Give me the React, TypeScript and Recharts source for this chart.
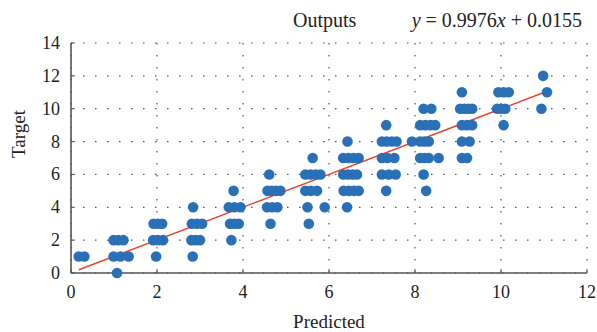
import { ScatterChart, Scatter, XAxis, YAxis, CartesianGrid, ReferenceLine } from 'recharts';

// predicted vs target pairs (one entry per dot)
const predicted = [
  0.18, 0.31,
  0.99, 1.1, 1.22, 0.99, 1.15, 1.34, 1.07,
  1.92, 2.02, 2.12, 1.91, 2.02, 2.14, 1.98,
  2.84, 2.81, 2.93, 3.05, 2.8, 2.9, 3.0, 2.83,
  3.78, 3.67, 3.8, 3.94, 3.7, 3.8, 3.9, 3.73,
  4.61, 4.57, 4.67, 4.77, 4.87, 4.56, 4.68, 4.8, 4.64,
  5.62, 5.45, 5.57, 5.69, 5.8, 5.45, 5.58, 5.72, 5.5, 5.9, 5.53,
  6.43, 6.33, 6.45, 6.57, 6.69, 6.33, 6.44, 6.55, 6.65, 6.34, 6.46, 6.58, 6.69, 6.42,
  7.33, 7.23, 7.34, 7.46, 7.57, 7.23, 7.36, 7.52, 7.23, 7.39, 7.55, 7.33,
  8.2, 8.38, 8.12, 8.24, 8.36, 8.47, 7.93, 8.12, 8.22, 8.32, 8.12, 8.22, 8.32, 8.55, 8.2, 8.26,
  9.09, 9.05, 9.15, 9.24, 9.33, 9.09, 9.21, 9.33, 9.09, 9.27, 9.09, 9.21,
  9.94, 10.06, 10.18, 9.91, 10.01, 10.1, 10.06,
  10.98, 11.07, 10.94,
];
const target = [
  1, 1,
  2, 2, 2, 1, 1, 1, 0,
  3, 3, 3, 2, 2, 2, 1,
  4, 3, 3, 3, 2, 2, 2, 1,
  5, 4, 4, 4, 3, 3, 3, 2,
  6, 5, 5, 5, 5, 4, 4, 4, 3,
  7, 6, 6, 6, 6, 5, 5, 5, 4, 4, 3,
  8, 7, 7, 7, 7, 6, 6, 6, 6, 5, 5, 5, 5, 4,
  9, 8, 8, 8, 8, 7, 7, 7, 6, 6, 6, 5,
  10, 10, 9, 9, 9, 9, 8, 8, 8, 8, 7, 7, 7, 7, 6, 5,
  11, 10, 10, 10, 10, 9, 9, 9, 8, 8, 7, 7,
  11, 11, 11, 10, 10, 10, 9,
  12, 11, 10,
];

const xTicks = [0, 2, 4, 6, 8, 10, 12];
const yTicks = [0, 2, 4, 6, 8, 10, 12, 14];

const slope = 0.9976;
const intercept = 0.0155;

const points = predicted.map((x, i) => ({ x, y: target[i] }));
const xMin = Math.min(...predicted);
const xMax = Math.max(...predicted);

const serif = '"Liberation Serif", "DejaVu Serif", serif';
const axisColor = '#555';
const dotColor = '#2a70b6';

function XTick(props: any) {
  const { x, y, payload } = props;
  return (
    <g>
      <line x1={x} x2={x} y1={y} y2={y - 4} stroke={axisColor} strokeWidth={1} />
      <text x={x} y={y + 25} textAnchor="middle" fontFamily={serif} fontSize={18} fill="#222">
        {payload.value}
      </text>
    </g>
  );
}

function YTick(props: any) {
  const { x, y, payload } = props;
  return (
    <g>
      <line x1={x} x2={x + 4} y1={y} y2={y} stroke={axisColor} strokeWidth={1} />
      <text x={x - 11} y={y + 6} textAnchor="end" fontFamily={serif} fontSize={18} fill="#222">
        {payload.value}
      </text>
    </g>
  );
}

function Dot(props: any) {
  return <circle cx={props.cx} cy={props.cy} r={5.3} fill={dotColor} />;
}

export default function App() {
  return (
    <div style={{ position: 'absolute', left: 0, top: 0, width: 597, height: 332, background: '#fff' }}>
      <ScatterChart width={597} height={332} margin={{ top: 43, right: 10, bottom: 0, left: 0 }}>
        <CartesianGrid stroke="#555" strokeDasharray="1.5 10.5" strokeWidth={1.2} />
        <XAxis
          type="number"
          dataKey="x"
          domain={[0, 12]}
          ticks={xTicks}
          height={59}
          tickSize={0}
          tickMargin={0}
          tickLine={false}
          tick={<XTick />}
          stroke={axisColor}
          strokeWidth={1.6}
          label={{ value: 'Predicted', position: 'insideBottom', offset: 4, fontFamily: serif, fontSize: 19, fill: '#222' }}
        />
        <YAxis
          type="number"
          dataKey="y"
          domain={[0, 14]}
          ticks={yTicks}
          width={71}
          tickSize={0}
          tickMargin={0}
          tickLine={false}
          tick={<YTick />}
          stroke={axisColor}
          strokeWidth={1.6}
          label={{ value: 'Target', angle: -90, position: 'insideLeft', offset: 18, fontFamily: serif, fontSize: 19, fill: '#222' }}
        />
        <Scatter data={points} fill={dotColor} shape={<Dot />} isAnimationActive={false} />
        <ReferenceLine
          segment={[
            { x: xMin, y: slope * xMin + intercept },
            { x: xMax, y: slope * xMax + intercept },
          ]}
          stroke="#e8452c"
          strokeWidth={1.5}
        />
        <text x={293} y={27} fontFamily={serif} fontSize={20} fill="#222">Outputs</text>
        <text x={582} y={27} textAnchor="end" fontFamily={serif} fontSize={20} fill="#222">
          <tspan fontStyle="italic">y</tspan>
          <tspan> = 0.9976</tspan>
          <tspan fontStyle="italic">x</tspan>
          <tspan> + 0.0155</tspan>
        </text>
      </ScatterChart>
    </div>
  );
}
